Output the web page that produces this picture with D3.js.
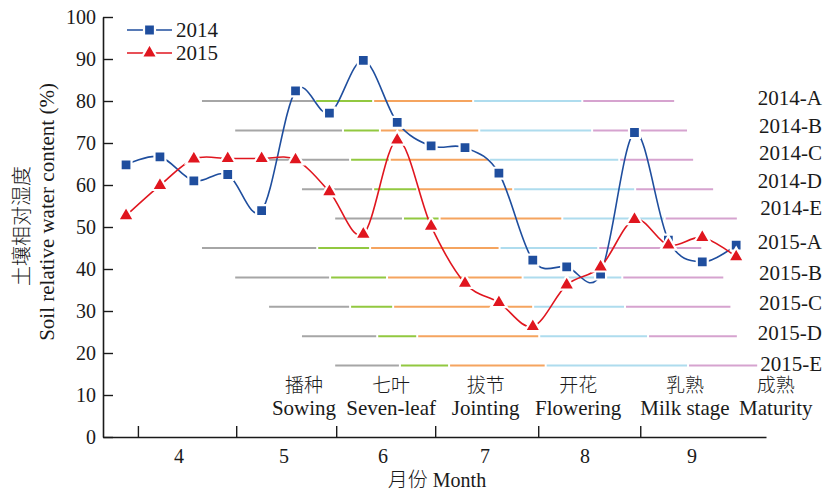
<!DOCTYPE html>
<html>
<head>
<meta charset="utf-8">
<script src="https://cdn.jsdelivr.net/npm/d3@7"></script>
<style>
  html, body { margin: 0; padding: 0; background: #fff; }
  svg text { font-family: 'Liberation Serif', 'Noto Sans CJK SC', serif; fill: #1a1a1a; }
  svg text.cn { font-weight: 300; }
</style>
</head>
<body>
<script>
// Soil relative water content, sampled 19 times through the season (sample index 0..18)
const soil2014 = [64.8, 66.7, 61.0, 62.5, 53.9, 82.4, 77.1, 89.7, 74.9, 69.3, 68.9, 62.8, 42.1, 40.5, 38.8, 72.5, 46.9, 41.7, 45.7];
const soil2015 = [52.7, 59.9, 66.2, 66.3, 66.3, 66.0, 58.4, 48.3, 70.7, 50.2, 36.6, 32.0, 26.3, 36.2, 40.5, 51.8, 45.7, 47.5, 42.9];

// Month boundaries and month names on the sample-index axis
const monthBounds = [0.35, 3.25, 6.20, 9.12, 12.16, 15.17];
const monthNames = ['4', '5', '6', '7', '8', '9'];
const monthCentres = [1.56, 4.66, 7.58, 10.59, 13.54, 16.70];

const yTicks = [0, 10, 20, 30, 40, 50, 60, 70, 80, 90, 100];

// Growth-stage bars: one row per year/treatment, drawn at a fixed level of the y axis
const stageRows = ['2014-A', '2014-B', '2014-C', '2014-D', '2014-E', '2015-A', '2015-B', '2015-C', '2015-D', '2015-E'];
const stageRowLevel = [80, 73, 66, 59, 52, 45, 38, 31, 24, 17];
// sowing, seven-leaf, jointing, flowering, milk stage, maturity (sample-index units)
const stageDates = [
  [2.24, 5.58, 7.29, 10.24, 13.46, 16.17],
  [3.22, 6.40, 7.49, 10.42, 13.75, 16.55],
  [4.22, 6.61, 7.78, 10.71, 14.55, 16.73],
  [5.19, 7.29, 8.59, 11.42, 15.02, 17.32],
  [6.17, 8.17, 9.25, 12.87, 15.89, 18.02],
  [2.24, 5.64, 7.20, 11.02, 13.93, 16.97],
  [3.22, 6.02, 7.70, 11.70, 14.64, 17.62],
  [4.22, 6.61, 7.88, 12.01, 14.72, 17.83],
  [5.19, 7.41, 8.59, 12.19, 15.40, 18.02],
  [6.17, 8.08, 9.53, 12.38, 16.58, 18.62]
];
const stageCN = ['播种', '七叶', '拔节', '开花', '乳熟', '成熟'];
const stageEN = ['Sowing', 'Seven-leaf', 'Jointing', 'Flowering', 'Milk stage', 'Maturity'];
const stageLabelAt = [5.25, 7.82, 10.61, 13.34, 16.49, 19.17];

const stageColors = ['#a6a6a6', '#92c840', '#f5a45f', '#aedcee', '#d6a3cf'];
const blue = '#1f4e9e';
const red = '#e0161f';

const W = 825, H = 491;
const svg = d3.select('body').append('svg').attr('width', W).attr('height', H);

const x = d3.scaleLinear().domain([-0.68, 18.88]).range([103, 766]);
const y = d3.scaleLinear().domain([0, 100]).range([437, 17]);

// stage bars
const stageG = svg.append('g');
stageDates.forEach((d, i) => {
  for (let k = 0; k < 5; k++) {
    stageG.append('line')
      .attr('x1', x(d[k]) + (k > 0 ? 1 : 0))
      .attr('x2', x(d[k + 1]) - (k < 4 ? 1 : 0))
      .attr('y1', y(stageRowLevel[i]))
      .attr('y2', y(stageRowLevel[i]))
      .attr('stroke', stageColors[k])
      .attr('stroke-width', 2);
  }
});

// row labels at the right
const rowLabelG = svg.append('g');
stageRows.forEach((r, i) => {
  const ly = i < 5 ? 98 + i * 27.5 : 242 + (i - 5) * 30.3;
  rowLabelG.append('text')
    .attr('x', 822).attr('y', ly).attr('dy', '0.35em')
    .attr('text-anchor', 'end')
    .style('font-size', '21px')
    .text(r);
});

// stage names under the bars
stageCN.forEach((s, i) => {
  svg.append('text').attr('class', 'cn').attr('x', x(stageLabelAt[i])).attr('y', 385.5).attr('dy', '0.35em')
    .attr('text-anchor', 'middle').style('font-size', '19px').text(s);
  svg.append('text').attr('x', x(stageLabelAt[i])).attr('y', 408).attr('dy', '0.35em')
    .attr('text-anchor', 'middle').style('font-size', '21px').text(stageEN[i]);
});

// axes
const yAxis = d3.axisLeft(y).tickValues(yTicks).tickSize(-10).tickSizeOuter(0).tickPadding(7);
const yg = svg.append('g').attr('transform', 'translate(103,0)').call(yAxis);
const xAxis = d3.axisBottom(x).tickValues(monthBounds).tickSize(-11).tickSizeOuter(0).tickFormat('');
const xg = svg.append('g').attr('transform', 'translate(0,437)').call(xAxis);
[yg, xg].forEach(g => {
  g.select('.domain').attr('stroke', '#1a1a1a').attr('stroke-width', 1.6);
  g.selectAll('.tick line').attr('stroke', '#1a1a1a').attr('stroke-width', 1.4);
  g.selectAll('.tick text').style('font-size', '20px').attr('fill', '#1a1a1a')
    .style('font-family', "'Liberation Serif', serif");
});

monthNames.forEach((m, i) => {
  svg.append('text').attr('x', x(monthCentres[i])).attr('y', 456).attr('dy', '0.35em')
    .attr('text-anchor', 'middle').style('font-size', '20px').text(m);
});

// axis titles
svg.append('text').attr('class', 'cn').attr('x', 437).attr('y', 480).attr('dy', '0.35em')
  .attr('text-anchor', 'middle').style('font-size', '20px').text('月份 Month');
svg.append('text').attr('class', 'cn').attr('transform', 'translate(22,226) rotate(-90)').attr('dy', '0.35em')
  .attr('text-anchor', 'middle').style('font-size', '20px').text('土壤相对湿度');
svg.append('text').attr('transform', 'translate(47,212) rotate(-90)').attr('dy', '0.35em')
  .attr('text-anchor', 'middle').style('font-size', '21px').text('Soil relative water content (%)');

// series
const line = d3.line().x((d, i) => x(i)).y(d => y(d)).curve(d3.curveCardinal.tension(0));
const square = d3.symbol().type(d3.symbolSquare).size(120);
const triangle = d3.symbol().type(d3.symbolTriangle).size(110);

function drawSeries(values, color, sym) {
  svg.append('path').datum(values).attr('d', line)
    .attr('fill', 'none').attr('stroke', color).attr('stroke-width', 1.6);
  svg.append('g').selectAll('path').data(values).join('path')
    .attr('transform', (d, i) => `translate(${x(i)},${y(d)})`)
    .attr('d', sym)
    .attr('fill', color).attr('stroke', '#fff').attr('stroke-width', 2.2);
}
drawSeries(soil2014, blue, square);
drawSeries(soil2015, red, triangle);

// legend
const legend = [['2014', blue, square], ['2015', red, triangle]];
legend.forEach((l, i) => {
  const ly = 30 + i * 23;
  svg.append('line').attr('x1', 127).attr('x2', 172).attr('y1', ly).attr('y2', ly)
    .attr('stroke', l[1]).attr('stroke-width', 1.6);
  svg.append('path').attr('transform', `translate(149.5,${ly})`).attr('d', l[2])
    .attr('fill', l[1]).attr('stroke', '#fff').attr('stroke-width', 2.2);
  svg.append('text').attr('x', 176).attr('y', ly).attr('dy', '0.35em')
    .style('font-size', '21px').text(l[0]);
});
</script>
</body>
</html>
